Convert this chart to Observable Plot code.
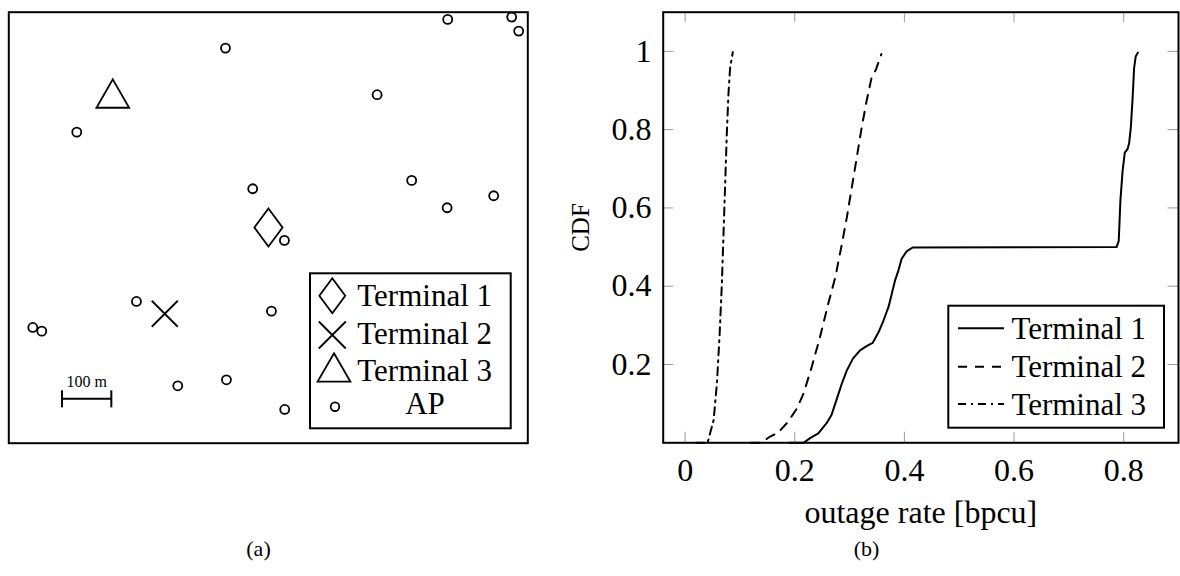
<!DOCTYPE html>
<html><head><meta charset="utf-8">
<script src="https://cdn.jsdelivr.net/npm/d3@7"></script>
<script src="https://cdn.jsdelivr.net/npm/@observablehq/plot@0.6"></script>
<style>
html,body{margin:0;padding:0;background:#fff;}
#root{position:relative;width:1180px;height:576px;overflow:hidden;}
#root svg{position:absolute;top:0;overflow:visible;background:transparent;}
</style></head><body><div id="root"></div>
<script>
// ---------- Panel (a): layout map, positions in metres ----------
const mapWidth = 1053, mapHeight = 874;
const apX = [439.6, 137.9, 494.9, 259.0, 48.7, 66.9, 532.9, 342.8, 441.6, 559.8, 890.5, 1020.3, 1034.5, 747.3, 817.4, 983.8, 889.3, 559.2];
const apY = [801.2, 630.8, 516.0, 287.4, 234.7, 227.2, 267.7, 116.4, 128.6, 68.4, 859.4, 864.1, 835.7, 706.7, 532.9, 501.8, 477.5, 411.2];
const terminalNames = ["Terminal 1", "Terminal 2", "Terminal 3"];
const terminalX = [526.8, 316.4, 211.0];
const terminalY = [437.5, 262.5, 699.4];
const scaleBarX = [108, 208];
const scaleBarY = 90;
const scaleBarLabel = "100 m";
const apLabel = "AP";

// ---------- Panel (b): CDF of outage rate ----------
const t1Rate = [0.19, 0.216, 0.228, 0.243, 0.258, 0.267, 0.276, 0.286, 0.295, 0.306, 0.319, 0.331, 0.342, 0.353, 0.362, 0.371, 0.377, 0.383, 0.389, 0.395, 0.404, 0.415, 0.787, 0.791, 0.794, 0.798, 0.802, 0.807, 0.810, 0.813, 0.816, 0.819, 0.822, 0.826];
const t1Cdf  = [0, 0, 0.012, 0.024, 0.050, 0.071, 0.109, 0.152, 0.185, 0.215, 0.236, 0.247, 0.255, 0.283, 0.313, 0.347, 0.381, 0.415, 0.440, 0.470, 0.489, 0.499, 0.500, 0.516, 0.618, 0.694, 0.741, 0.750, 0.766, 0.805, 0.873, 0.957, 0.987, 0.997];
const t2Rate = [0.12, 0.140, 0.1465, 0.155, 0.170, 0.188, 0.204, 0.216, 0.231, 0.246, 0.261, 0.274, 0.286, 0.295, 0.304, 0.313, 0.322, 0.331, 0.340, 0.348, 0.358];
const t2Cdf  = [0, 0, 0.0074, 0.016, 0.026, 0.054, 0.088, 0.126, 0.194, 0.270, 0.355, 0.423, 0.508, 0.576, 0.652, 0.728, 0.805, 0.873, 0.932, 0.953, 0.993];
const t3Rate = [0.02, 0.041, 0.052, 0.058, 0.063, 0.067, 0.070, 0.073, 0.076, 0.079, 0.082, 0.087];
const t3Cdf  = [0, 0, 0.058, 0.152, 0.279, 0.406, 0.533, 0.660, 0.788, 0.890, 0.957, 0.998];
const xTicks = [0, 0.2, 0.4, 0.6, 0.8];
const yTicks = [0.2, 0.4, 0.6, 0.8, 1];
const xLabel = "outage rate [bpcu]";
const yLabel = "CDF";
const seriesDash = ["none", "9,8", "8,5,2,5"];

const FONT = "'Liberation Serif','Times New Roman',serif";

// custom marker shapes (size = pi r^2)
const rad = size => Math.sqrt(size / Math.PI);
const diamondTall = {draw(c, size){ const r = rad(size), w = r * 0.74; c.moveTo(0,-r); c.lineTo(w,0); c.lineTo(0,r); c.lineTo(-w,0); c.closePath(); }};
const crossX = {draw(c, size){ const r = rad(size); c.moveTo(-r,-r); c.lineTo(r,r); c.moveTo(-r,r); c.lineTo(r,-r); }};
const triUp = {draw(c, size){ const R = rad(size), u = R*Math.sqrt(3)/2; c.moveTo(0,-R); c.lineTo(u,R/2); c.lineTo(-u,R/2); c.closePath(); }};
const vbar = {draw(c, size){ const r = rad(size); c.moveTo(0,-r); c.lineTo(0,r); }};
const termSymbols = [diamondTall, crossX, triUp];
const termR = [19, 13, 18.9];

const root = document.getElementById("root");

// ---------- Panel (a) ----------
const apData = apX.map((x, i) => ({x, y: apY[i]}));
const termData = terminalNames.map((name, i) => ({name, x: terminalX[i], y: terminalY[i]}));
const plotA = Plot.plot({
  width: 540, height: 576,
  marginLeft: 8.3, marginRight: 12.7, marginTop: 11.7, marginBottom: 133.3,
  x: {domain: [0, mapWidth], axis: null},
  y: {domain: [0, mapHeight], axis: null},
  style: {fontFamily: FONT, background: "transparent", overflow: "visible"},
  marks: [
    Plot.dot(apData, {x: "x", y: "y", r: 4.5, stroke: "black", strokeWidth: 1.8, fill: "white"}),
    ...termData.map((d, i) => Plot.dot([d], {x: "x", y: "y", symbol: termSymbols[i], r: termR[i], stroke: "black", strokeWidth: 1.8, fill: "none"})),
    Plot.link([{x1: scaleBarX[0], x2: scaleBarX[1], y: scaleBarY}], {x1: "x1", x2: "x2", y1: "y", y2: "y", stroke: "black", strokeWidth: 2}),
    Plot.dot(scaleBarX.map(x => ({x, y: scaleBarY})), {x: "x", y: "y", symbol: vbar, r: 8.5, stroke: "black", strokeWidth: 2}),
    Plot.text([scaleBarLabel], {x: (scaleBarX[0] + scaleBarX[1]) / 2, y: scaleBarY, dy: -16.6, fontSize: 16, fontFamily: FONT, fill: "black", textAnchor: "middle", lineAnchor: "middle"}),
    Plot.frame({stroke: "black", strokeWidth: 2}),
    Plot.text(["(a)"], {frameAnchor: "bottom", dy: 105.3, dx: -9.8, fontSize: 22, fontFamily: FONT, fill: "black", textAnchor: "middle", lineAnchor: "middle"})
  ]
});
plotA.style.left = "0px";
root.appendChild(plotA);

// legend (a)
{
  const g = d3.select(plotA).append("g").attr("text-anchor", "start");
  g.append("rect").attr("x", 310).attr("y", 273.3).attr("width", 200.7).attr("height", 155)
    .attr("fill", "white").attr("stroke", "black").attr("stroke-width", 2);
  const symPos = [[332.3, 295.7, 17.5], [332.3, 335, 13.5], [334, 372.2, 18.9]];
  const baselines = [306, 343.8, 381];
  terminalNames.forEach((name, i) => {
    const [sx, sy, r] = symPos[i];
    g.append("path").attr("transform", `translate(${sx},${sy})`)
      .attr("d", d3.symbol(termSymbols[i], Math.PI * r * r)())
      .attr("fill", "none").attr("stroke", "black").attr("stroke-width", 1.8);
    g.append("text").attr("x", 357.3).attr("y", baselines[i]).text(name)
      .attr("text-anchor", "start")
      .attr("font-family", FONT).attr("font-size", 31).attr("fill", "black");
  });
  g.append("circle").attr("cx", 335).attr("cy", 406.7).attr("r", 4.3)
    .attr("fill", "white").attr("stroke", "black").attr("stroke-width", 1.8);
  g.append("text").attr("x", 425).attr("y", 413.5).attr("text-anchor", "middle").text(apLabel)
    .attr("font-family", FONT).attr("font-size", 31).attr("fill", "black");
}

// ---------- Panel (b) ----------
const mk = (xs, ys) => xs.map((x, i) => ({x, y: ys[i]}));
const series = [mk(t1Rate, t1Cdf), mk(t2Rate, t2Cdf), mk(t3Rate, t3Cdf)];
const BW = 640, BH = 576, mL = 122.7, mR = 2, mT = 11.7, mB = 133.7;
const FW = BW - mL - mR, FH = BH - mT - mB, TL = 10.5;
const plotB = Plot.plot({
  width: BW, height: BH,
  marginLeft: mL, marginRight: mR, marginTop: mT, marginBottom: mB,
  x: {domain: [-0.04, 0.9], label: null},
  y: {domain: [0, 1.1], label: null},
  style: {fontFamily: FONT, background: "transparent", overflow: "visible"},
  marks: [
    Plot.tickX(xTicks, {x: d => d, stroke: "#9a9a9a", strokeWidth: 1, insetTop: FH - TL}),
    Plot.tickX(xTicks, {x: d => d, stroke: "#9a9a9a", strokeWidth: 1, insetBottom: FH - TL}),
    Plot.tickY(yTicks, {y: d => d, stroke: "#9a9a9a", strokeWidth: 1, insetRight: FW - TL}),
    Plot.tickY(yTicks, {y: d => d, stroke: "#9a9a9a", strokeWidth: 1, insetLeft: FW - TL}),
    Plot.axisX({ticks: xTicks, tickSize: 0, tickPadding: 15, fontSize: 32, tickFormat: d => String(d), label: null, fill: "black"}),
    Plot.axisY({ticks: yTicks, tickSize: 0, tickPadding: 11.7, fontSize: 32, tickFormat: d => String(d), label: null, fill: "black"}),
    ...series.map((s, i) => Plot.line(s, {x: "x", y: "y", stroke: "black", strokeWidth: 2, strokeDasharray: seriesDash[i] === "none" ? null : seriesDash[i]})),
    Plot.frame({stroke: "black", strokeWidth: 2}),
    Plot.text([xLabel], {frameAnchor: "bottom", dy: 69.5, fontSize: 32, fontFamily: FONT, fill: "black", textAnchor: "middle", lineAnchor: "middle"}),
    Plot.text([yLabel], {frameAnchor: "left", dx: -82.7, rotate: -90, fontSize: 25, fontFamily: FONT, fill: "black", textAnchor: "middle", lineAnchor: "middle"}),
    Plot.text(["(b)"], {frameAnchor: "bottom", dy: 105.7, dx: -54.3, fontSize: 22, fontFamily: FONT, fill: "black", textAnchor: "middle", lineAnchor: "middle"})
  ]
});
plotB.style.left = "540px";
root.appendChild(plotB);

// legend (b)
{
  const g = d3.select(plotB).append("g").attr("transform", "translate(-540,0)").attr("text-anchor", "start");
  g.append("rect").attr("x", 948.3).attr("y", 305.7).attr("width", 215.7).attr("height", 122)
    .attr("fill", "white").attr("stroke", "black").attr("stroke-width", 2);
  const rowY = [328.3, 366.7, 404];
  terminalNames.forEach((name, i) => {
    const ln = g.append("line").attr("x1", 958).attr("x2", 1004).attr("y1", rowY[i]).attr("y2", rowY[i])
      .attr("stroke", "black").attr("stroke-width", 2);
    if (seriesDash[i] !== "none") ln.attr("stroke-dasharray", seriesDash[i]);
    g.append("text").attr("x", 1011.4).attr("y", rowY[i] + 10.7).text(name)
      .attr("text-anchor", "start")
      .attr("font-family", FONT).attr("font-size", 31).attr("fill", "black");
  });
}
</script></body></html>
